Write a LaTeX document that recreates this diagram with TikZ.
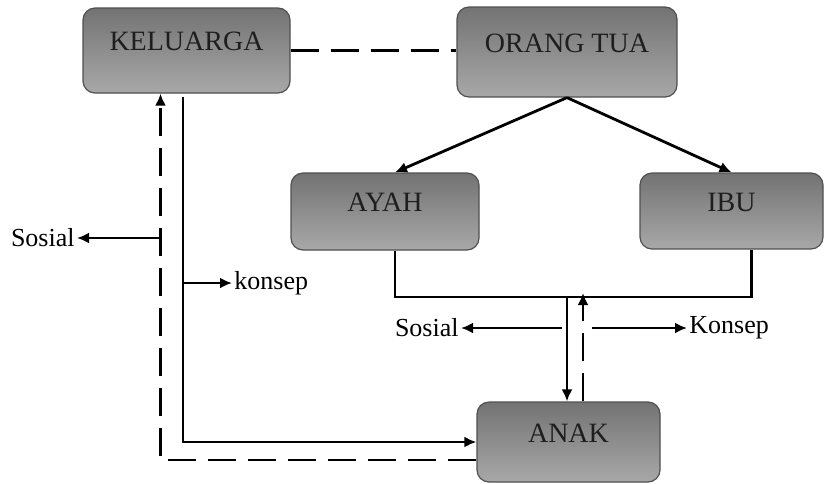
\documentclass[tikz,border=0pt]{standalone}
\usepackage{fontspec}
\setmainfont{Liberation Serif}
\usepackage{xcolor}
\usepackage{tikz}
\usetikzlibrary{arrows.meta,positioning,calc}
\definecolor{boxtop} {RGB}{115,115,115}
\definecolor{boxbot} {RGB}{168,168,168}
\definecolor{boxline}{RGB}{80,80,80}
\definecolor{boxtext}{RGB}{30,30,30}
\tikzset{
  famnode/.style={draw=boxline, rounded corners=6pt, line width=0.6pt,
                  top color=boxtop, bottom color=boxbot, text=boxtext,
                  font=\fontsize{14}{16}\selectfont,
                  minimum width=#1, minimum height=40pt, inner sep=0pt,
                  text height=8pt, text depth=8pt},
  famnode/.default=92pt,
  lbl/.style   ={font=\fontsize{13}{15}\selectfont, inner sep=1pt},
  sline/.style ={line width=1.4pt},
  dline/.style ={line width=1.4pt, dash pattern=on 14pt off 6pt},
  arr/.style   ={-{Latex[length=6pt,width=5.5pt]}, line width=1.4pt},
  darr/.style  ={arr, dash pattern=on 14pt off 6pt},
}

\begin{document}
\begin{tikzpicture}[x=0.5pt,y=-0.5pt]
  \useasboundingbox (0,0) rectangle (824,483);
  % boxes
  \node[famnode=103.5pt, minimum height=42.5pt] (kel)  at (186.5,50.5) {KELUARGA};
  \node[famnode=110pt,   minimum height=45pt]   (ortu) at (567,52)     {ORANG TUA};
  \node[famnode=94pt,    minimum height=38.5pt] (ayah) at (385,211.5)  {AYAH};
  \node[famnode=91.5pt,  minimum height=38pt]   (ibu)  at (731.5,211)  {IBU};
  \node[famnode=91.5pt,  minimum height=40pt]   (anak) at (568.5,442)  {ANAK};
  % labels
  \node[lbl, anchor=east] (sosl) at (77,238)  {Sosial};
  \node[lbl, anchor=west] (konl) at (232,283) {konsep};
  \node[lbl, anchor=east] (sosr) at (461,328) {Sosial};
  \node[lbl, anchor=west] (konr) at (687,328) {Konsep};
  \coordinate (fork)  at (567,297);
  \coordinate (up)    at (583,293);
  \coordinate (sosr0) at (562,328);
  \coordinate (konr0) at (592,328);
  \coordinate (lsol)  at (183,97);
  \coordinate (ldash) at (160.5,462);
  % connectors
  \draw[dline](kel.east)--(kel.east -| ortu.west);
  \draw[arr](ortu.south)--([xshift=5pt]ayah.north);
  \draw[arr](ortu.south)--(ibu.north);
  \draw[sline]([xshift=5pt]ayah.south)|-(fork)-|([xshift=10pt]ibu.south);
  \draw[arr](fork)--(fork |- anak.north);
  \draw[darr](up |- anak.north)--(up);
  \draw[arr](sosr0)--(sosr.east);
  \draw[arr](konr0)--(konr.west);
  \draw[arr](lsol)|-(anak.west);
  \draw[arr](lsol |- konl.west)--(konl.west);
  \draw[darr]([yshift=-9pt]anak.west)-|([xshift=-13pt]kel.south);
  \draw[arr](ldash |- sosl.east)--(sosl.east);
\end{tikzpicture}
\end{document}
